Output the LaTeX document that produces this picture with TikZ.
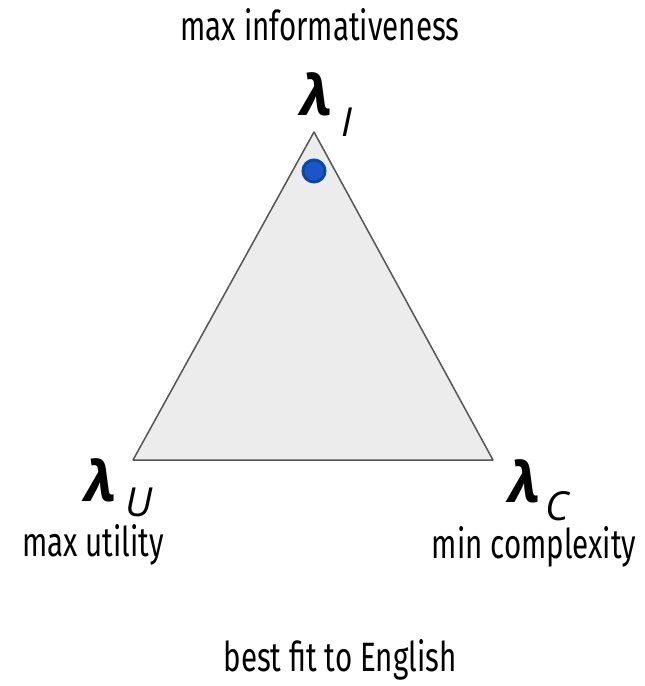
\documentclass[tikz,border=0pt]{standalone}
\usepackage{fontspec}
\setmainfont[FakeStretch=0.72]{Fira Sans}
\newfontfamily\lamfont{Open Sans}
\definecolor{trifill}{HTML}{ECECEC}
\definecolor{triedge}{HTML}{555555}
\definecolor{dotfill}{HTML}{1A56C8}
\definecolor{dotedge}{HTML}{0D47A1}
\tikzset{
  lbl/.style={inner sep=0pt, font=\fontsize{41}{46}\selectfont},
  lam/.style={inner sep=0pt, font=\lamfont\bfseries\itshape\fontsize{56}{62}\selectfont},
  sub/.style={inner sep=0pt, text depth=0pt, font=\lamfont\itshape\fontsize{40}{46}\selectfont}
}
\begin{document}
\begin{tikzpicture}[x=1pt, y=-1pt]
            \useasboundingbox (0, 0) rectangle (645, 686);

            \coordinate (top) at (314, 132);
            \coordinate (left) at (133, 460);
            \coordinate (right) at (493, 460);

            \filldraw[fill=trifill, draw=triedge, line width=1.5pt, line join=round] (top) -- (left) -- (right) -- cycle;
            \filldraw[fill=dotfill, draw=dotedge, line width=3pt] (314, 171) circle (11);

            % corner labels
            \node[lam] (lamI) at (317, 94) {λ};
            \node[sub] (subI) at (347, 122) {I};
            \node[lam] (lamU) at (101, 480) {λ};
            \node[sub] (subU) at (139, 502) {U};
            \node[lam] (lamC) at (525, 481) {λ};
            \node[sub] (subC) at (557, 506) {C};

            \node[lbl] (info) at (320, 25) {max informativeness};
            \node[lbl] (util) at (93, 545) {max utility};
            \node[lbl] (comp) at (534, 547) {min complexity};
            \node[lbl] (eng) at (340, 660) {best fit to English};
        \end{tikzpicture}
\end{document}
